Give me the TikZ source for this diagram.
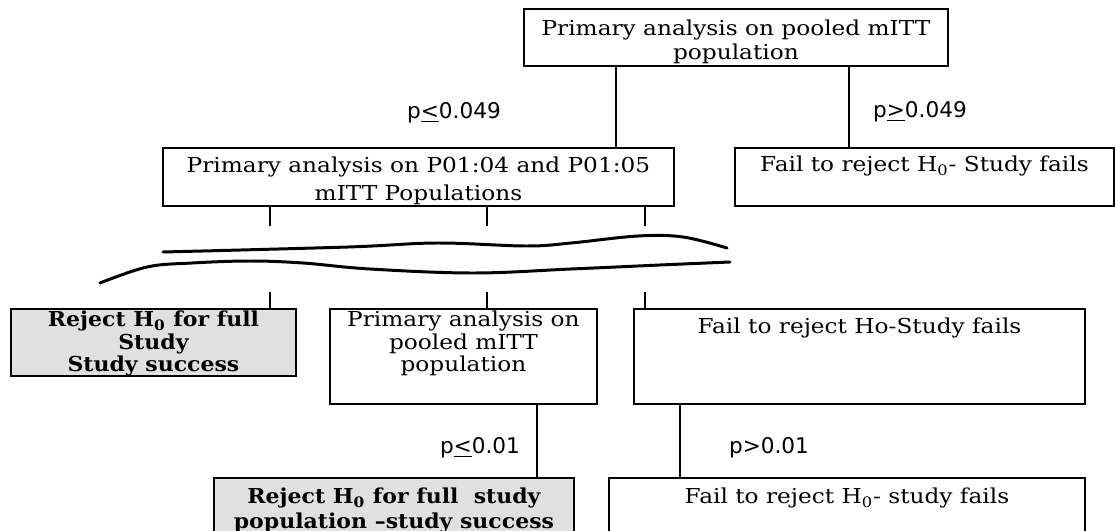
\documentclass[tikz,border=0pt]{standalone}
\usepackage{fontspec}
\setmainfont{DejaVu Serif}[FakeStretch=1.13, BoldFeatures={FakeStretch=1.07}]
\newfontfamily\pfont{DejaVu Sans}
\newcommand{\boxtxt}[4][t]{\parbox[c][#3][#1]{#2}{\centering#4}}

\begin{document}
\begin{tikzpicture}[
		box/.style={draw=black, line width=1.1pt, inner sep=0pt, anchor=north west, font=\fontsize{11.7}{13.6}\selectfont},
		tight/.style={box, font=\fontsize{11.7}{12.8}\selectfont},
		shaded/.style={tight, fill=black!12, font=\fontsize{11.7}{12.8}\selectfont\bfseries},
		plabel/.style={font=\pfont\fontsize{12.3}{14}\selectfont},
		link/.style={black, line width=1.2pt},
		wave/.style={black, line width=1.7pt, line cap=round}]
			\clip (0,0) rectangle (22.30,-10.62);
			
			\node[box] (A) at (10.46,-0.16) {\boxtxt{8.48cm}{1.14cm}{\vspace{0.22cm}Primary analysis on pooled mITT\\population}};
			\node[box, font=\fontsize{11.7}{15.9}\selectfont] (B) at (3.24,-2.94) {\boxtxt{10.22cm}{1.16cm}{\vspace{0.18cm}Primary analysis on P01:04 and P01:05\\mITT Populations}};
			\node[box] (C) at (14.68,-2.94) {\boxtxt{7.58cm}{1.16cm}{\vspace{0.16cm}Fail to reject H\textsubscript{0}- Study fails}};
			
			\node[shaded] (D) at (0.20,-6.16) {\boxtxt{5.70cm}{1.34cm}{\vspace{0.04cm}Reject H\textsubscript{0} for full\\Study\\Study success}};
			\node[tight] (E) at (6.58,-6.16) {\boxtxt{5.34cm}{1.90cm}{\vspace{0.04cm}Primary analysis on\\pooled mITT\\population}};
			\node[box] (F) at (12.66,-6.16) {\boxtxt{9.02cm}{1.90cm}{\vspace{0.18cm}Fail to reject Ho-Study fails}};
			
			\node[shaded, font=\fontsize{11.7}{14.2}\selectfont\bfseries] (G) at (4.26,-9.54) {\boxtxt{7.20cm}{1.40cm}{\vspace{0.20cm}Reject H\textsubscript{0} for full~ study\\population --study success}};
			\node[box] (H) at (12.16,-9.54) {\boxtxt{9.52cm}{1.40cm}{\vspace{0.20cm}Fail to reject H\textsubscript{0}- study fails}};
			
			\node[plabel] (p1) at (9.08,-2.26) {p\underline{<}0.049};
			\node[plabel] (p2) at (18.40,-2.24) {p\underline{>}0.049};
			\node[plabel] (p3) at (9.60,-8.96) {p\underline{<}0.01};
			\node[plabel] (p4) at (15.38,-8.96) {p>0.01};
			
			\coordinate (ab) at (12.32,0);
			\coordinate (ac) at (16.98,0);
			\coordinate (eg) at (10.74,0);
			\coordinate (fh) at (13.60,0);
			\draw [link] (A.south -| ab) -- (B.north -| ab);
			\draw [link] (A.south -| ac) -- (C.north -| ac);
			\draw [link] (E.south -| eg) -- (G.north -| eg);
			\draw [link] (F.south -| fh) -- (H.north -| fh);
			
			% stubs above and below the break
			\foreach \x/\n/\b in {5.40/1/D, 9.74/2/E, 12.90/3/F} {
				\coordinate (u\n) at (\x,-4.52);
				\coordinate (l\n) at (\x,-5.84);
				\draw [link] (B.south -| u\n) -- (u\n);
				\draw [link] (l\n) -- (\b.north -| l\n);
			}
			
			\draw [wave] plot [smooth, tension=0.6] coordinates {(3.26,-5.04) (6.96,-4.94) (8.74,-4.86) (10.52,-4.92) (11.42,-4.86) (12.76,-4.72) (13.66,-4.74) (14.54,-4.96)};
			\draw [wave] plot [smooth, tension=0.6] coordinates {(2.00,-5.66) (2.94,-5.34) (3.84,-5.26) (5.00,-5.22) (6.06,-5.26) (7.40,-5.38) (9.46,-5.46) (11.42,-5.38) (13.20,-5.30) (14.60,-5.24)};
			
		\end{tikzpicture}
\end{document}
